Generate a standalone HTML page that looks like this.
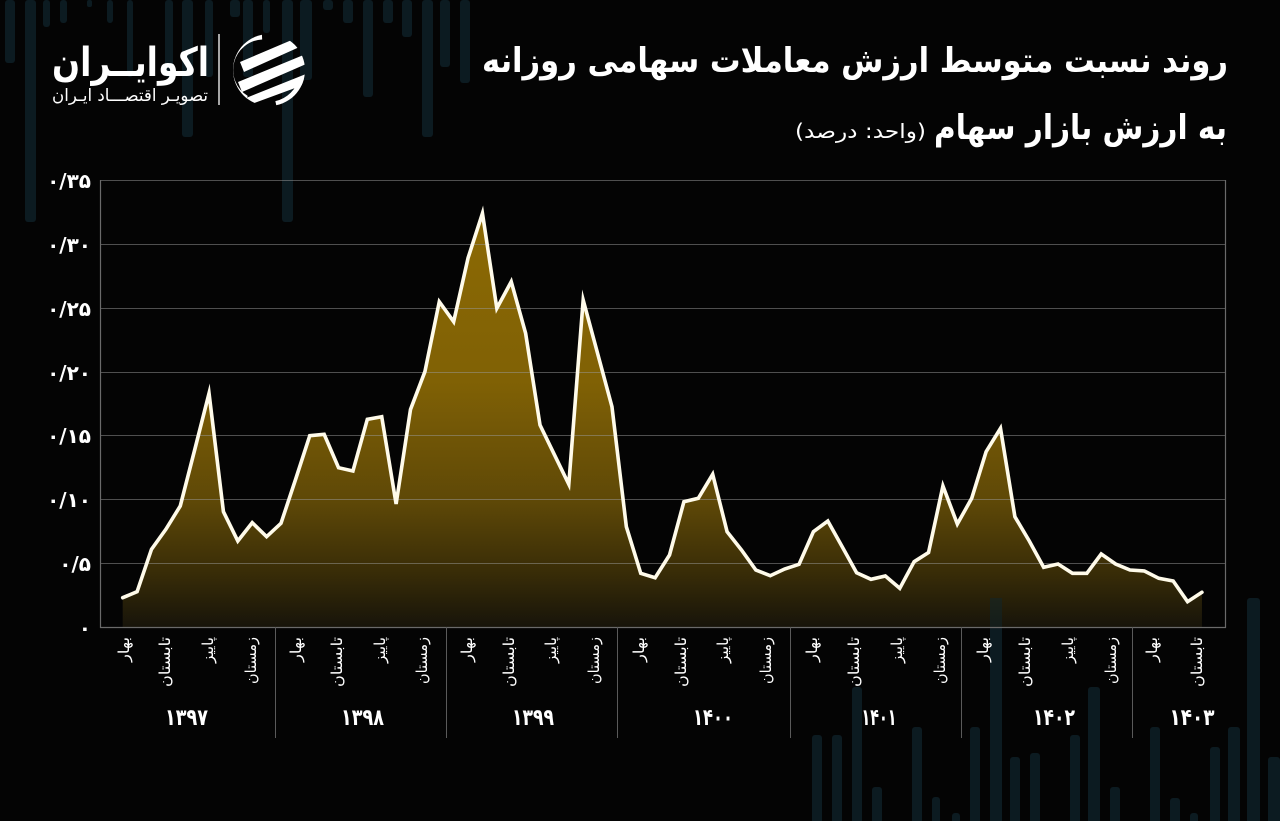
<!DOCTYPE html>
<html><head><meta charset="utf-8">
<style>
html,body{margin:0;padding:0;background:#040404;}
svg{display:block;}
text{font-family:"DejaVu Sans","Liberation Sans",sans-serif;fill:#fff;}
</style></head>
<body>
<svg width="1280" height="821" viewBox="0 0 1280 821" xmlns="http://www.w3.org/2000/svg">
<defs>
<linearGradient id="fillg" x1="0" y1="181" x2="0" y2="627" gradientUnits="userSpaceOnUse">
<stop offset="0" stop-color="#8e6b04"/>
<stop offset="0.45" stop-color="#806105"/>
<stop offset="0.72" stop-color="#5e4807"/>
<stop offset="0.88" stop-color="#382c07"/>
<stop offset="1" stop-color="#17140a"/>
</linearGradient>
<clipPath id="iconclip"><circle cx="269" cy="70" r="36"/></clipPath>
</defs>
<rect width="1280" height="821" fill="#040404"/>

<!-- top decorative bars -->
<g fill="#0c1b21">
<rect x="5" y="0" width="10" height="63" rx="3"/>
<rect x="25" y="0" width="11" height="222" rx="3"/>
<rect x="43" y="0" width="7" height="27" rx="3"/>
<rect x="60" y="0" width="7" height="23" rx="3"/>
<rect x="87" y="0" width="5" height="7" rx="2"/>
<rect x="107" y="0" width="6" height="23" rx="3"/>
<rect x="127" y="0" width="6" height="77" rx="3"/>
<rect x="165" y="0" width="8" height="77" rx="3"/>
<rect x="182" y="0" width="11" height="137" rx="3"/>
<rect x="205" y="0" width="8" height="77" rx="3"/>
<rect x="230" y="0" width="10" height="17" rx="3"/>
<rect x="243" y="0" width="10" height="77" rx="3"/>
<rect x="263" y="0" width="7" height="33" rx="3"/>
<rect x="282" y="0" width="11" height="222" rx="3"/>
<rect x="300" y="0" width="12" height="80" rx="3"/>
<rect x="323" y="0" width="10" height="10" rx="3"/>
<rect x="343" y="0" width="10" height="23" rx="3"/>
<rect x="363" y="0" width="10" height="97" rx="3"/>
<rect x="383" y="0" width="10" height="23" rx="3"/>
<rect x="402" y="0" width="10" height="37" rx="3"/>
<rect x="422" y="0" width="11" height="137" rx="3"/>
<rect x="440" y="0" width="10" height="67" rx="3"/>
<rect x="460" y="0" width="10" height="83" rx="3"/>
</g>

<!-- bottom decorative bars -->
<g fill="#0c1b21">
<rect x="812" y="735" width="10" height="90" rx="3"/>
<rect x="832" y="735" width="10" height="90" rx="3"/>
<rect x="852" y="687" width="10" height="140" rx="3"/>
<rect x="872" y="787" width="10" height="40" rx="3"/>
<rect x="912" y="727" width="10" height="100" rx="3"/>
<rect x="932" y="797" width="8" height="30" rx="3"/>
<rect x="952" y="813" width="8" height="12" rx="3"/>
<rect x="970" y="727" width="10" height="100" rx="3"/>
<rect x="990" y="598" width="12" height="230" rx="3"/>
<rect x="1010" y="757" width="10" height="70" rx="3"/>
<rect x="1030" y="753" width="10" height="74" rx="3"/>
<rect x="1070" y="735" width="10" height="90" rx="3"/>
<rect x="1088" y="687" width="12" height="140" rx="3"/>
<rect x="1110" y="787" width="10" height="40" rx="3"/>
<rect x="1150" y="727" width="10" height="100" rx="3"/>
<rect x="1170" y="798" width="10" height="30" rx="3"/>
<rect x="1190" y="813" width="8" height="12" rx="3"/>
<rect x="1210" y="747" width="10" height="80" rx="3"/>
<rect x="1228" y="727" width="12" height="100" rx="3"/>
<rect x="1247" y="598" width="13" height="230" rx="3"/>
<rect x="1268" y="757" width="12" height="70" rx="3"/>
</g>

<!-- area fill -->
<path fill="url(#fillg)" d="M122.7,627.5 L122.70,597.7 L137.09,591.7 L151.48,549.3 L165.87,529.3 L180.26,506 L194.65,450 L209.04,393.3 L223.43,511.7 L237.82,541 L252.21,522.7 L266.60,536.7 L280.99,523.3 L295.38,480 L309.77,435.7 L324.16,434.3 L338.55,467.7 L352.94,471 L367.33,419.3 L381.72,416.7 L396.11,504 L410.50,409.5 L424.89,371.7 L439.28,301.7 L453.67,321.7 L468.06,258 L482.45,213.3 L496.84,308.3 L511.23,281.7 L525.62,333.3 L540.01,425 L554.40,454.7 L568.79,484.3 L583.18,300 L597.57,353.3 L611.96,406.7 L626.35,526.7 L640.74,573.3 L655.13,577.7 L669.52,555 L683.91,501.7 L698.30,498.3 L712.69,474.3 L727.08,531.7 L741.47,550 L755.86,570 L770.25,575.7 L784.64,569 L799.03,564.3 L813.42,531.7 L827.81,521 L842.20,546.7 L856.59,572.7 L870.98,579.3 L885.37,576 L899.76,588.3 L914.15,561.7 L928.54,552.5 L942.93,486 L957.32,524 L971.71,498.3 L986.10,451.7 L1000.49,428.3 L1014.88,516.7 L1029.27,541 L1043.66,567.3 L1058.05,564 L1072.44,573.3 L1086.83,573.3 L1101.22,554 L1115.61,564 L1130.00,570 L1144.39,571 L1158.78,578.3 L1173.17,581 L1187.56,601.7 L1201.95,592.3 L1201.95,627.5 Z"/>

<!-- bar overlapping plot bottom -->
<rect x="990" y="598" width="12" height="30" fill="#10262c" opacity="0.5"/>

<!-- gridlines -->
<g stroke="#9a9a9a" stroke-opacity="0.5" stroke-width="1">
<line x1="100" y1="180.5" x2="1226" y2="180.5"/>
<line x1="100" y1="244.5" x2="1226" y2="244.5"/>
<line x1="100" y1="308.5" x2="1226" y2="308.5"/>
<line x1="100" y1="372.5" x2="1226" y2="372.5"/>
<line x1="100" y1="435.5" x2="1226" y2="435.5"/>
<line x1="100" y1="499.5" x2="1226" y2="499.5"/>
<line x1="100" y1="563.5" x2="1226" y2="563.5"/>
</g>
<!-- frame -->
<g stroke="#6a6a6a" stroke-width="1.2" fill="none">
<line x1="100.5" y1="180" x2="100.5" y2="628"/>
<line x1="1225.5" y1="180" x2="1225.5" y2="628"/>
<line x1="100" y1="627.5" x2="1226" y2="627.5"/>
</g>
<g stroke="#5a5a5a" stroke-width="1">
<line x1="275.5" y1="627" x2="275.5" y2="738"/>
<line x1="446.5" y1="627" x2="446.5" y2="738"/>
<line x1="617.5" y1="627" x2="617.5" y2="738"/>
<line x1="790.5" y1="627" x2="790.5" y2="738"/>
<line x1="961.5" y1="627" x2="961.5" y2="738"/>
<line x1="1132.5" y1="627" x2="1132.5" y2="738"/>
</g>

<!-- data line -->
<polyline fill="none" stroke="#fffbea" stroke-width="3.6" stroke-linejoin="miter" stroke-miterlimit="6" stroke-linecap="round" points="122.70,597.7 137.09,591.7 151.48,549.3 165.87,529.3 180.26,506 194.65,450 209.04,393.3 223.43,511.7 237.82,541 252.21,522.7 266.60,536.7 280.99,523.3 295.38,480 309.77,435.7 324.16,434.3 338.55,467.7 352.94,471 367.33,419.3 381.72,416.7 396.11,504 410.50,409.5 424.89,371.7 439.28,301.7 453.67,321.7 468.06,258 482.45,213.3 496.84,308.3 511.23,281.7 525.62,333.3 540.01,425 554.40,454.7 568.79,484.3 583.18,300 597.57,353.3 611.96,406.7 626.35,526.7 640.74,573.3 655.13,577.7 669.52,555 683.91,501.7 698.30,498.3 712.69,474.3 727.08,531.7 741.47,550 755.86,570 770.25,575.7 784.64,569 799.03,564.3 813.42,531.7 827.81,521 842.20,546.7 856.59,572.7 870.98,579.3 885.37,576 899.76,588.3 914.15,561.7 928.54,552.5 942.93,486 957.32,524 971.71,498.3 986.10,451.7 1000.49,428.3 1014.88,516.7 1029.27,541 1043.66,567.3 1058.05,564 1072.44,573.3 1086.83,573.3 1101.22,554 1115.61,564 1130.00,570 1144.39,571 1158.78,578.3 1173.17,581 1187.56,601.7 1201.95,592.3"/>

<!-- y labels -->
<g font-size="20" text-anchor="end" font-weight="bold">
<text x="91" y="188">۰/۳۵</text>
<text x="91" y="252">۰/۳۰</text>
<text x="91" y="316">۰/۲۵</text>
<text x="91" y="380">۰/۲۰</text>
<text x="91" y="443">۰/۱۵</text>
<text x="91" y="507">۰/۱۰</text>
<text x="91" y="571">۰/۵</text>
<text x="91" y="635">۰</text>
</g>

<!-- season labels -->
<g font-size="15" text-anchor="end">
<text transform="translate(129,637) rotate(-90)" textLength="25" lengthAdjust="spacingAndGlyphs">بهار</text>
<text transform="translate(170,637) rotate(-90)" textLength="50" lengthAdjust="spacingAndGlyphs">تابستان</text>
<text transform="translate(213,637) rotate(-90)" textLength="26" lengthAdjust="spacingAndGlyphs">پاییز</text>
<text transform="translate(256,637) rotate(-90)" textLength="47" lengthAdjust="spacingAndGlyphs">زمستان</text>

<text transform="translate(301,637) rotate(-90)" textLength="25" lengthAdjust="spacingAndGlyphs">بهار</text>
<text transform="translate(342,637) rotate(-90)" textLength="50" lengthAdjust="spacingAndGlyphs">تابستان</text>
<text transform="translate(385,637) rotate(-90)" textLength="26" lengthAdjust="spacingAndGlyphs">پاییز</text>
<text transform="translate(427,637) rotate(-90)" textLength="47" lengthAdjust="spacingAndGlyphs">زمستان</text>

<text transform="translate(472,637) rotate(-90)" textLength="25" lengthAdjust="spacingAndGlyphs">بهار</text>
<text transform="translate(514,637) rotate(-90)" textLength="50" lengthAdjust="spacingAndGlyphs">تابستان</text>
<text transform="translate(556,637) rotate(-90)" textLength="26" lengthAdjust="spacingAndGlyphs">پاییز</text>
<text transform="translate(599,637) rotate(-90)" textLength="47" lengthAdjust="spacingAndGlyphs">زمستان</text>

<text transform="translate(644,637) rotate(-90)" textLength="25" lengthAdjust="spacingAndGlyphs">بهار</text>
<text transform="translate(686,637) rotate(-90)" textLength="50" lengthAdjust="spacingAndGlyphs">تابستان</text>
<text transform="translate(728,637) rotate(-90)" textLength="26" lengthAdjust="spacingAndGlyphs">پاییز</text>
<text transform="translate(771,637) rotate(-90)" textLength="47" lengthAdjust="spacingAndGlyphs">زمستان</text>

<text transform="translate(817,637) rotate(-90)" textLength="25" lengthAdjust="spacingAndGlyphs">بهار</text>
<text transform="translate(859,637) rotate(-90)" textLength="50" lengthAdjust="spacingAndGlyphs">تابستان</text>
<text transform="translate(902,637) rotate(-90)" textLength="26" lengthAdjust="spacingAndGlyphs">پاییز</text>
<text transform="translate(945,637) rotate(-90)" textLength="47" lengthAdjust="spacingAndGlyphs">زمستان</text>

<text transform="translate(988,637) rotate(-90)" textLength="25" lengthAdjust="spacingAndGlyphs">بهار</text>
<text transform="translate(1030,637) rotate(-90)" textLength="50" lengthAdjust="spacingAndGlyphs">تابستان</text>
<text transform="translate(1073,637) rotate(-90)" textLength="26" lengthAdjust="spacingAndGlyphs">پاییز</text>
<text transform="translate(1116,637) rotate(-90)" textLength="47" lengthAdjust="spacingAndGlyphs">زمستان</text>

<text transform="translate(1157,637) rotate(-90)" textLength="25" lengthAdjust="spacingAndGlyphs">بهار</text>
<text transform="translate(1202,637) rotate(-90)" textLength="50" lengthAdjust="spacingAndGlyphs">تابستان</text>
</g>

<!-- year labels -->
<g font-size="23" font-weight="bold" text-anchor="middle">
<text x="186.5" y="725" textLength="43" lengthAdjust="spacingAndGlyphs">۱۳۹۷</text>
<text x="362.5" y="725" textLength="43" lengthAdjust="spacingAndGlyphs">۱۳۹۸</text>
<text x="533" y="725" textLength="42" lengthAdjust="spacingAndGlyphs">۱۳۹۹</text>
<text x="713" y="725" textLength="40" lengthAdjust="spacingAndGlyphs">۱۴۰۰</text>
<text x="879" y="725" textLength="35" lengthAdjust="spacingAndGlyphs">۱۴۰۱</text>
<text x="1054" y="725" textLength="42" lengthAdjust="spacingAndGlyphs">۱۴۰۲</text>
<text x="1192" y="725" textLength="45" lengthAdjust="spacingAndGlyphs">۱۴۰۳</text>
</g>

<!-- title -->
<text x="1228" y="72" font-size="34" font-weight="bold" text-anchor="end" textLength="746" lengthAdjust="spacingAndGlyphs">روند نسبت متوسط ارزش معاملات سهامی روزانه</text>
<text x="1227" y="139" font-size="34" font-weight="bold" text-anchor="end" textLength="293" lengthAdjust="spacingAndGlyphs">به ارزش بازار سهام</text>
<text x="926" y="138" font-size="20" text-anchor="end" textLength="131" lengthAdjust="spacingAndGlyphs">(واحد: درصد)</text>

<!-- logo -->
<text x="209" y="76" font-size="40" font-weight="bold" text-anchor="end" textLength="157" lengthAdjust="spacingAndGlyphs">اکوایــران</text>
<text x="208" y="101" font-size="17" text-anchor="end" textLength="156" lengthAdjust="spacingAndGlyphs">تصویـر اقتصـــاد ایـران</text>
<line x1="219" y1="34" x2="219" y2="105" stroke="#dddddd" stroke-width="1.5"/>
<g clip-path="url(#iconclip)">
<path d="M 262 36 A 34 34 0 0 0 246 99" fill="none" stroke="#fff" stroke-width="7"/>
<path d="M 276 104 A 34 34 0 0 0 302 78" fill="none" stroke="#fff" stroke-width="6"/>
<g fill="#fff">
<polygon points="240,62 306,34 306,44 244,72"/>
<polygon points="238,82 306,54 306,64 242,92"/>
<polygon points="236,102 306,74 306,84 246,106"/>
</g>
</g>
</svg>
</body></html>
